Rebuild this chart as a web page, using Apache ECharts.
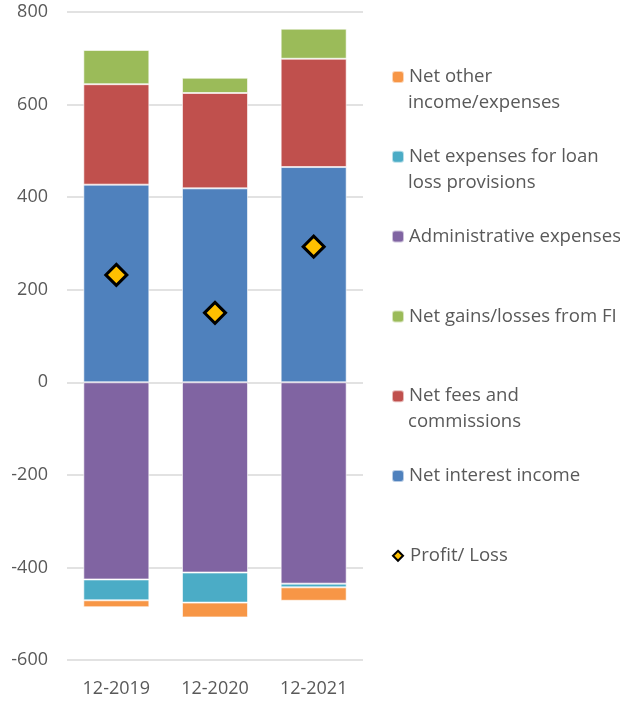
<!DOCTYPE html>
<html>
<head>
<meta charset="utf-8">
<script src="https://cdn.jsdelivr.net/npm/echarts@6/dist/echarts.min.js"></script>
<style>
  html, body { margin: 0; padding: 0; background: #fff; }
  #chart { width: 620px; height: 702px; }
</style>
</head>
<body>
<div id="chart"></div>
<script>
// Income statement components by year (EUR m)
const categories = ['12-2019', '12-2020', '12-2021'];
const netInterestIncome = [427, 419, 465];
const netFeesCommissions = [217, 206, 234];
const netGainsFI = [74, 33, 65];
const adminExpenses = [-426, -411, -435];
const loanLossProvisions = [-45, -65, -8];
const netOtherIncome = [-15, -32, -29];
const profitLoss = [232, 150, 293];
const yTicks = { min: -600, max: 800, step: 200 };

const FONT = '"Open Sans", "Liberation Sans", sans-serif';
const TEXT = '#595959';
const LEGEND_SIZE = 18.6;

const names = {
  other: 'Net other income/expenses',
  loan: 'Net expenses for loan loss provisions',
  admin: 'Administrative expenses',
  gains: 'Net gains/losses from FI',
  fees: 'Net fees and commissions',
  nii: 'Net interest income',
  profit: 'Profit/ Loss'
};

// Legend lines (first line in the legend, continuation drawn underneath)
const legendRows = [
  { name: names.other, first: 'Net other', second: 'income/expenses' },
  { name: names.loan, first: 'Net expenses for loan', second: 'loss provisions' },
  { name: names.admin, first: 'Administrative expenses' },
  { name: names.gains, first: 'Net gains/losses from FI' },
  { name: names.fees, first: 'Net fees and', second: 'commissions' },
  { name: names.nii, first: 'Net interest income' },
  { name: names.profit, first: 'Profit/ Loss' }
];

const legendTop0 = 64, legendStep = 79.8, legendLeft = 391;

const legends = legendRows.map((r, i) => {
  const isProfit = r.name === names.profit;
  return {
    data: [r.name],
    orient: 'vertical',
    left: isProfit ? legendLeft + 1 : legendLeft,
    top: legendTop0 + i * legendStep,
    padding: 0,
    itemWidth: isProfit ? 10 : 12,
    itemHeight: isProfit ? 10 : 12,
    itemGap: 0,
    selectedMode: false,
    formatter: () => r.first,
    textStyle: { fontFamily: FONT, fontSize: LEGEND_SIZE, color: TEXT, lineHeight: 26,
                 padding: isProfit ? [0, 0, 0, 2] : 0 }
  };
});

const graphics = legendRows
  .map((r, i) => r.second ? {
    type: 'text',
    left: legendLeft + 17,
    top: legendTop0 + i * legendStep + 26,
    style: { text: r.second, font: LEGEND_SIZE + 'px ' + FONT, fill: TEXT, lineHeight: 26, verticalAlign: 'top' }
  } : null)
  .filter(Boolean);

function bar(name, data, color) {
  return {
    name, type: 'bar', stack: 'total', data,
    barWidth: 66,
    itemStyle: { color, borderColor: 'rgba(255,255,255,0.6)', borderWidth: 1 },
    emphasis: { disabled: true }
  };
}

const chart = echarts.init(document.getElementById('chart'), null, { renderer: 'canvas' });
chart.setOption({
  animation: false,
  backgroundColor: '#ffffff',
  grid: { left: 67, right: 257, top: 12, bottom: 42, containLabel: false },
  legend: legends,
  graphic: graphics,
  xAxis: {
    type: 'category',
    data: categories,
    axisLine: { show: false },
    axisTick: { show: false },
    axisLabel: { color: TEXT, fontFamily: FONT, fontSize: 18, margin: 20 }
  },
  yAxis: {
    type: 'value',
    min: yTicks.min, max: yTicks.max, interval: yTicks.step,
    axisLine: { show: false },
    axisTick: { show: false },
    axisLabel: { color: TEXT, fontFamily: FONT, fontSize: 18, margin: 19 },
    splitLine: { lineStyle: { color: '#d9d9d9', width: 1.5 } }
  },
  series: [
    bar(names.nii, netInterestIncome, '#4F81BD'),
    bar(names.fees, netFeesCommissions, '#C0504D'),
    bar(names.gains, netGainsFI, '#9BBB59'),
    bar(names.admin, adminExpenses, '#8064A2'),
    bar(names.loan, loanLossProvisions, '#4BACC6'),
    bar(names.other, netOtherIncome, '#F79646'),
    {
      name: names.profit,
      type: 'scatter',
      data: profitLoss,
      symbol: 'diamond',
      symbolSize: 21,
      z: 5,
      itemStyle: { color: '#FFC000', borderColor: '#000000', borderWidth: 3, opacity: 1 },
      emphasis: { disabled: true }
    }
  ]
});
</script>
</body>
</html>
